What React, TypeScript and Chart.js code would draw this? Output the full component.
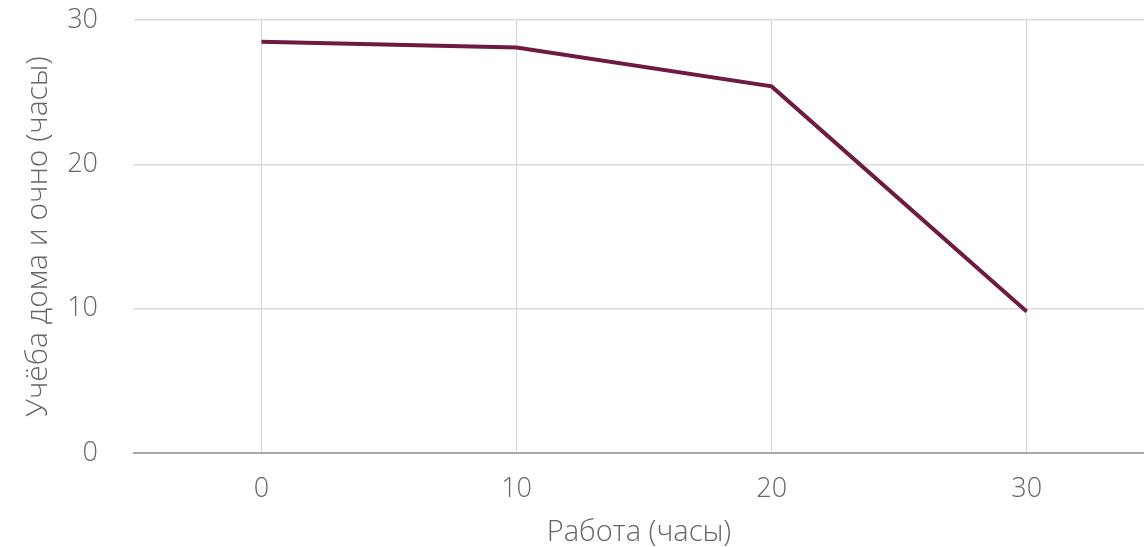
import React, { useEffect, useRef } from "react";
import { Chart, registerables } from "chart.js";

Chart.register(...registerables);

const workHours = [0, 10, 20, 30];
const studyHours = [28.5, 28.1, 25.4, 9.8];
const xTicks = [0, 10, 20, 30];
const yTicks = [0, 10, 20, 30];
const xTitle = "Работа (часы)";
const yTitle = "Учёба дома и очно (часы)";

export default function App() {
  const ref = useRef<HTMLCanvasElement | null>(null);

  useEffect(() => {
    if (!ref.current) return;
    const chart = new Chart(ref.current, {
      type: "line",
      data: {
        datasets: [
          {
            data: workHours.map((x, i) => ({ x, y: studyHours[i] })),
            borderColor: "#6f1a40",
            borderWidth: 4,
            pointRadius: 0,
            tension: 0,
            fill: false,
          },
        ],
      },
      options: {
        animation: false,
        responsive: false,
        maintainAspectRatio: false,
        layout: { padding: { top: 0, right: 0, left: 0, bottom: 0 } },
        plugins: { legend: { display: false }, tooltip: { enabled: false } },
        scales: {
          x: {
            type: "linear",
            min: -5,
            max: 34.6,
            afterBuildTicks: (axis: any) => {
              axis.ticks = xTicks.map((v) => ({ value: v }));
            },
            afterFit: (scale: any) => {
              scale.height = 94;
            },
            grid: { color: "#d6d6d6", lineWidth: 1, drawTicks: false },
            border: { display: true, color: "#a8a8a8", width: 2 },
            ticks: {
              color: "#666",
              font: { family: "Open Sans", size: 27, weight: 300 },
              padding: 20,
              maxRotation: 0,
            },
            title: {
              display: true,
              text: xTitle,
              color: "#666",
              font: { family: "Open Sans", size: 29, weight: 300 },
              padding: { top: 0, bottom: -3 },
            },
          },
          y: {
            type: "linear",
            min: 0,
            max: 30,
            afterBuildTicks: (axis: any) => {
              axis.ticks = yTicks.map((v) => ({ value: v }));
            },
            afterFit: (scale: any) => {
              scale.width = 134;
              scale.paddingTop = 20;
            },
            grid: { color: "#dcdcdc", lineWidth: 1.5, drawTicks: false },
            border: { display: false },
            ticks: {
              color: "#666",
              font: { family: "Open Sans", size: 27, weight: 300 },
              padding: 36,
            },
            title: {
              display: true,
              text: yTitle,
              color: "#666",
              font: { family: "Open Sans", size: 30, weight: 300 },
              padding: { top: 20, bottom: 0 },
            },
          },
        },
      },
    });
    return () => chart.destroy();
  }, []);

  return (
    <div style={{ position: "fixed", left: 0, top: 0, width: 1144, height: 547, background: "#fff" }}>
      <canvas ref={ref} width={1144} height={547} style={{ display: "block", width: 1144, height: 547 }} />
    </div>
  );
}
